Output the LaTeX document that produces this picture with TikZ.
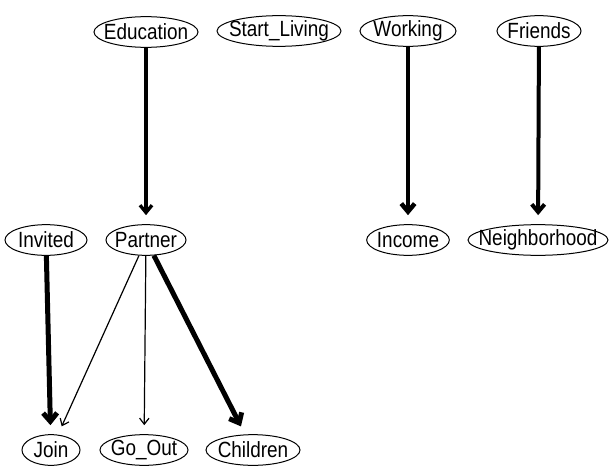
\documentclass[tikz,border=0pt]{standalone}
\usepackage{fontspec}
\setmainfont{Liberation Sans}[FakeStretch=0.86]
\usetikzlibrary{shapes.geometric,arrows.meta}

\tikzset{every picture/.style={line width=0.75pt}}
\tikzset{
  var/.style={draw, ellipse, inner sep=0pt, minimum height=23pt, font=\fontsize{16.5}{19}\selectfont},
  edge/.style={-{Straight Barb[length=4pt 0.6,width=6pt 1.2]}, shorten >=6.75pt},
}
\newcommand{\vlabel}[1]{\makebox[0pt]{#1}}

\begin{document}
\begin{tikzpicture}[x=0.75pt,y=0.75pt,yscale=-1,xscale=1]
\useasboundingbox (0,0) rectangle (609,467);

% Top row
\node [var, minimum width=78pt] (education) at (146,32) {\vlabel{Education}};
\node [var, minimum width=93pt] (startliving) at (279,31) {\vlabel{Start\_Living}};
\node [var, minimum width=72pt] (working) at (408,31) {\vlabel{Working}};
\node [var, minimum width=63pt] (friends) at (539,31) {\vlabel{Friends}};
% Middle row
\node [var, minimum width=61.5pt] (invited) at (46,240) {\vlabel{Invited}};
\node [var, minimum width=60pt] (partner) at (146,240) {\vlabel{Partner}};
\node [var, minimum width=62pt] (income) at (408,240) {\vlabel{Income}};
\node [var, minimum width=105pt] (neighborhood) at (538,240) {\vlabel{Neighborhood}};
% Bottom row
\node [var, minimum width=43.5pt] (join) at (51,450) {\vlabel{Join}};
\node [var, minimum width=66pt] (goout) at (144,450) {\vlabel{Go\_Out}};
\node [var, minimum width=70.5pt] (children) at (253,450) {\vlabel{Children}};

% Edges
\draw [edge, line width=2.5pt] (education) -- (partner);
\draw [edge, line width=3.4pt] (working) -- (income);
\draw [edge, line width=3pt] (friends) -- (neighborhood);
\draw [edge, line width=3.75pt] (invited) -- (join);
\draw [edge, line width=0.9pt] (partner) -- (join);
\draw [edge, line width=0.9pt] (partner) -- (goout);
\draw [edge, line width=3.75pt] (partner) -- (children);
\end{tikzpicture}
\end{document}
